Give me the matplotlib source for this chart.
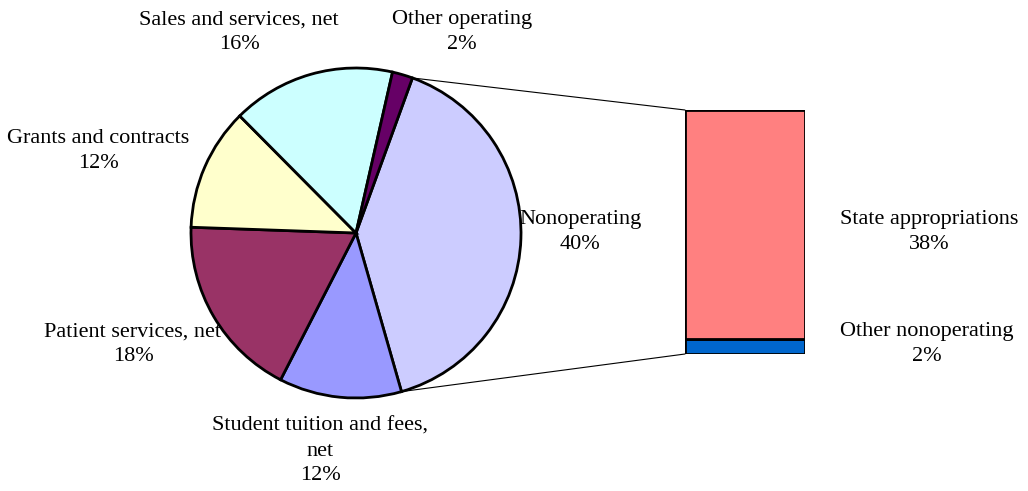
import numpy as np
import matplotlib.pyplot as plt
from matplotlib.patches import ConnectionPatch

plt.rcParams['font.family'] = ['Liberation Serif', 'DejaVu Serif']

# pie slices, clockwise starting from the "Nonoperating" slice
pie_labels = ['Nonoperating', 'Student tuition and fees,\nnet', 'Patient services, net',
              'Grants and contracts', 'Sales and services, net', 'Other operating']
pie_values = [40, 12, 18, 12, 16, 2]
pie_colors = ['#CCCCFF', '#9999FF', '#993366', '#FFFFCC', '#CCFFFF', '#660066']

# breakdown of "Nonoperating"
bar_labels = ['Other nonoperating', 'State appropriations']
bar_values = [2.4, 37.6]
bar_pct = ['2%', '38%']
bar_colors = ['#0066CC', '#FF8080']

W, H = 1028, 491
fig = plt.figure(figsize=(W / 100, H / 100), dpi=100)

# pie axes: center (356, 233) px, radius 165 px
cx, cy, r = 356, 233, 165
half = 1.5
size = r * half
ax = fig.add_axes([(cx - size) / W, (H - cy - size) / H, 2 * size / W, 2 * size / H])
start = 70
wedges, _ = ax.pie(pie_values, colors=pie_colors, startangle=start, counterclock=False,
                   wedgeprops=dict(edgecolor='black', linewidth=2.0))
ax.set_xlim(-half, half)
ax.set_ylim(-half, half)
ax.set_aspect('equal')
ax.axis('off')

# bar axes
bl, bt, bw, bh = 685, 110, 120, 244
bax = fig.add_axes([bl / W, (H - bt - bh) / H, bw / W, bh / H])
bottom = 0
for v, c in zip(bar_values, bar_colors):
    bax.bar(0, v, width=1, bottom=bottom, color=c, edgecolor='black', linewidth=2.0)
    bottom += v
bax.set_xlim(-0.5, 0.5)
bax.set_ylim(0, sum(bar_values))
bax.axis('off')

# connector lines from the edges of the Nonoperating slice to the bar
a0 = np.deg2rad(start)
a1 = np.deg2rad(start - 360 * pie_values[0] / sum(pie_values))
for ang, yb in [(a0, sum(bar_values)), (a1, 0)]:
    con = ConnectionPatch(xyA=(np.cos(ang), np.sin(ang)), coordsA=ax.transData,
                          xyB=(-0.5, yb), coordsB=bax.transData,
                          color='black', linewidth=0.8)
    fig.add_artist(con)

# data labels (pixel centers)
pie_pos = [(580, 232), (320, 451), (133, 344), (98, 151), (239, 32), (462, 32)]
for lab, v, (x, y) in zip(pie_labels, pie_values, pie_pos):
    fig.text(x / W, 1 - y / H, f'{lab}\n{v}%', ha='center', va='center',
             fontsize=16, linespacing=1.4, color='black')

bar_pos = [(927, 344), (929, 232)]
for lab, p, (x, y) in zip(bar_labels, bar_pct, bar_pos):
    fig.text(x / W, 1 - y / H, f'{lab}\n{p}', ha='center', va='center',
             fontsize=16, linespacing=1.4, color='black')

fig.savefig('out.png', dpi=100)
